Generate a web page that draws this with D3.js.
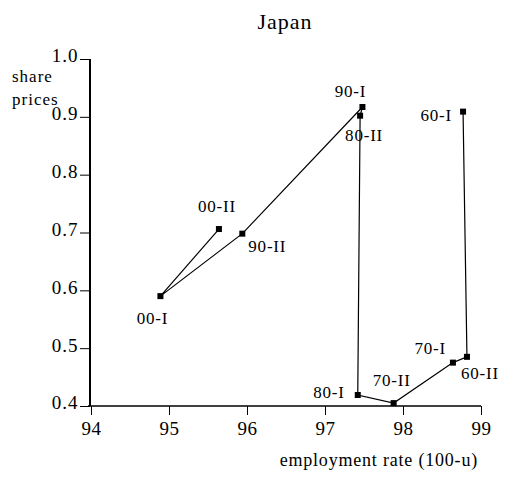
<!DOCTYPE html>
<html><head><meta charset="utf-8">
<script src="https://cdn.jsdelivr.net/npm/d3@7"></script>
<style>body{margin:0;background:#fff}text{font-family:"Liberation Serif","Times New Roman",serif;fill:#000}</style>
</head><body>
<svg id="c" width="509" height="484"></svg>
<script>
const labels = ["60-I","60-II","70-I","70-II","80-I","80-II","90-I","90-II","00-I","00-II"];
const employment = [98.77,98.82,98.64,97.88,97.42,97.45,97.48,95.94,94.89,95.64];
const sharePrices = [0.909,0.485,0.475,0.405,0.419,0.902,0.917,0.698,0.590,0.706];
const xTicks = [94,95,96,97,98,99];
const yTicks = [0.4,0.5,0.6,0.7,0.8,0.9,1.0];
// label placement (anchor, dx, dy) per point
const labelPlace = [["end",-11,9],["start",-6,22],["end",-7,-9],["middle",-2,-17],["end",-13,3],["middle",4,25],["middle",-12,-10],["start",6,18],["middle",-8,28],["middle",-2,-17]];

const svg = d3.select("#c");
const x = d3.scaleLinear().domain([94,99]).range([91,481]);
const y = d3.scaleLinear().domain([0.4,1.0]).range([406,59]);

svg.append("text").attr("x",285).attr("y",29).attr("text-anchor","middle")
  .style("font-size","22px").style("letter-spacing","1px").text("Japan");

const gx = svg.append("g").attr("transform","translate(0,406)")
  .call(d3.axisBottom(x).tickValues(xTicks).tickFormat(d3.format("d")).tickSize(9).tickPadding(6.5));
gx.select(".domain").attr("d","M88,0H481").attr("stroke","#000").attr("stroke-width",1.3);
gx.selectAll(".tick line").attr("stroke","#000").attr("stroke-width",1);
gx.selectAll(".tick text").style("font-size","19px").style("letter-spacing","0.5px");

const gy = svg.append("g").attr("transform","translate(90,0)")
  .call(d3.axisLeft(y).tickValues(yTicks).tickFormat(d3.format(".1f")).tickSize(10).tickPadding(1.5));
gy.select(".domain").attr("d","M0,59V406").attr("stroke","#000").attr("stroke-width",2);
gy.selectAll(".tick line").attr("stroke","#000").attr("stroke-width",1);
gy.selectAll(".tick text").style("font-size","19px").style("letter-spacing","1px").attr("dy","0.15em");

svg.append("text").attr("x",12).attr("y",82).style("font-size","17px").style("letter-spacing","1px").text("share");
svg.append("text").attr("x",12).attr("y",105).style("font-size","17px").style("letter-spacing","1px").text("prices");
svg.append("text").attr("x",478).attr("y",466).attr("text-anchor","end")
  .style("font-size","18px").style("letter-spacing","0.8px").text("employment rate (100-u)");

const pts = labels.map((l,i)=>({l, x:employment[i], y:sharePrices[i], p:labelPlace[i]}));
svg.append("path").datum(pts).attr("fill","none").attr("stroke","#000").attr("stroke-width",1.2)
  .attr("d", d3.line().x(d=>x(d.x)).y(d=>y(d.y)));
svg.selectAll("rect.m").data(pts).join("rect").attr("class","m")
  .attr("x",d=>x(d.x)-3).attr("y",d=>y(d.y)-3).attr("width",6).attr("height",6).attr("fill","#000");
svg.selectAll("text.lab").data(pts).join("text").attr("class","lab")
  .attr("x",d=>x(d.x)+d.p[1]).attr("y",d=>y(d.y)+d.p[2]).attr("text-anchor",d=>d.p[0])
  .style("font-size","17px").style("letter-spacing","0.8px").text(d=>d.l);
</script>
</body></html>
